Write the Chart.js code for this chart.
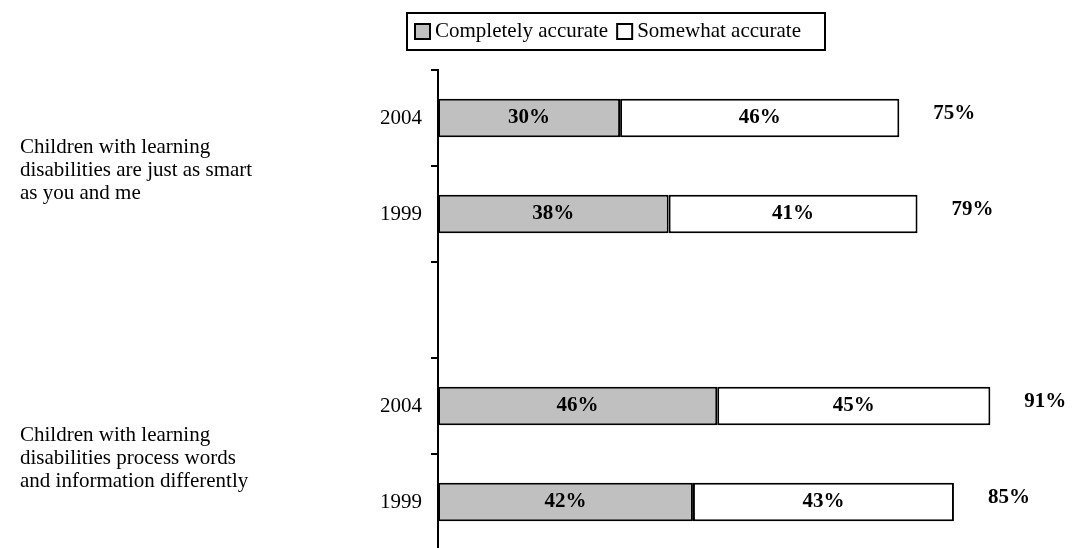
<!DOCTYPE html>
<html lang="en">
<head>
<meta charset="UTF-8" />
<title>Learning disabilities – perceived accuracy</title>
<style>
  html,body{margin:0;padding:0;background:#fff;overflow:hidden;}
  canvas{display:block;}
</style>
<script src="https://cdn.jsdelivr.net/npm/chart.js"></script>
</head>
<body>
<canvas id="chart" width="1080" height="560"></canvas>
<script>
/* ---- data ---- */
const rowLabels  = ['2004', '1999', '', '2004', '1999'];
const completely = [30, 38, null, 46, 42];
const somewhat   = [46, 41, null, 45, 43];
const totals     = [75, 79, null, 91, 85];
const groupText  = [
  ['Children with learning', 'disabilities are just as smart', 'as you and me'],
  ['Children with learning', 'disabilities process words', 'and information differently']
];
const groupRows  = [[0, 1], [3, 4]];
const seriesNames  = ['Completely accurate', 'Somewhat accurate'];
const seriesColors = ['#c0c0c0', '#ffffff'];

const FONT = '"Liberation Serif", "Times New Roman", serif';

/* ---- labels inside bars + totals ---- */
const barText = {
  id: 'barText',
  afterDatasetsDraw(chart){
    const c = chart.ctx;
    c.save();
    c.font = 'bold 21px ' + FONT;
    c.fillStyle = '#000';
    c.textBaseline = 'middle';
    chart.data.datasets.forEach((ds, di) => {
      const meta = chart.getDatasetMeta(di);
      meta.data.forEach((bar, i) => {
        if (ds.data[i] == null) return;
        c.textAlign = 'center';
        c.fillText(ds.data[i] + '%', (bar.x + bar.base) / 2, bar.y);
        if (di === chart.data.datasets.length - 1 && totals[i] != null) {
          c.textAlign = 'left';
          c.fillText(totals[i] + '%', bar.x + 34, bar.y - 4);
        }
      });
    });
    c.restore();
  }
};

/* ---- statement text left of each pair ---- */
const groupLabels = {
  id: 'groupLabels',
  afterDraw(chart){
    const c = chart.ctx, y = chart.scales.y;
    c.save();
    c.font = '21px ' + FONT;
    c.fillStyle = '#000';
    c.textAlign = 'left';
    c.textBaseline = 'middle';
    groupText.forEach((lines, g) => {
      const [a, b] = groupRows[g];
      const mid = (y.getPixelForValue(a) + y.getPixelForValue(b)) / 2 + 4;
      lines.forEach((t, k) => c.fillText(t, 20, mid + (k - 1) * 23));
    });
    c.restore();
  }
};

/* ---- boxed legend ---- */
const boxLegend = {
  id: 'boxLegend',
  afterDraw(chart){
    const c = chart.ctx;
    c.save();
    c.font = '21px ' + FONT;
    c.textBaseline = 'middle';
    c.textAlign = 'left';
    c.lineWidth = 2;
    c.strokeStyle = '#000';
    c.strokeRect(407, 13, 418, 37);
    let x = 415;
    chart.data.datasets.forEach(ds => {
      c.fillStyle = ds.backgroundColor;
      c.fillRect(x, 24, 15, 15);
      c.strokeRect(x, 24, 15, 15);
      c.fillStyle = '#000';
      c.fillText(ds.label, x + 20, 31.5);
      x += 20 + c.measureText(ds.label).width + 9;
    });
    c.restore();
  }
};

new Chart(document.getElementById('chart'), {
  type: 'bar',
  data: {
    labels: rowLabels,
    datasets: seriesNames.map((name, i) => ({
      label: name,
      data: i === 0 ? completely : somewhat,
      backgroundColor: seriesColors[i],
      borderColor: '#000',
      borderWidth: 2,
      borderSkipped: false,
      categoryPercentage: 1,
      barPercentage: 0.4
    }))
  },
  options: {
    indexAxis: 'y',
    responsive: false,
    animation: false,
    layout: { padding: { top: 70, bottom: 10, left: 0, right: 35 } },
    plugins: { legend: { display: false }, tooltip: { enabled: false } },
    scales: {
      x: { stacked: true, min: 0, max: 100, display: false },
      y: {
        stacked: true,
        afterFit(s){ s.width = 438; s.paddingTop = 0; s.paddingBottom = 0; },
        border: { display: true, color: '#000', width: 2 },
        grid: { offset: true, drawOnChartArea: false, drawTicks: true, tickLength: 7, color: '#000', lineWidth: 2 },
        ticks: { color: '#000', padding: 9, font: { family: FONT, size: 21 } }
      }
    }
  },
  plugins: [barText, groupLabels, boxLegend]
});
</script>
</body>
</html>
